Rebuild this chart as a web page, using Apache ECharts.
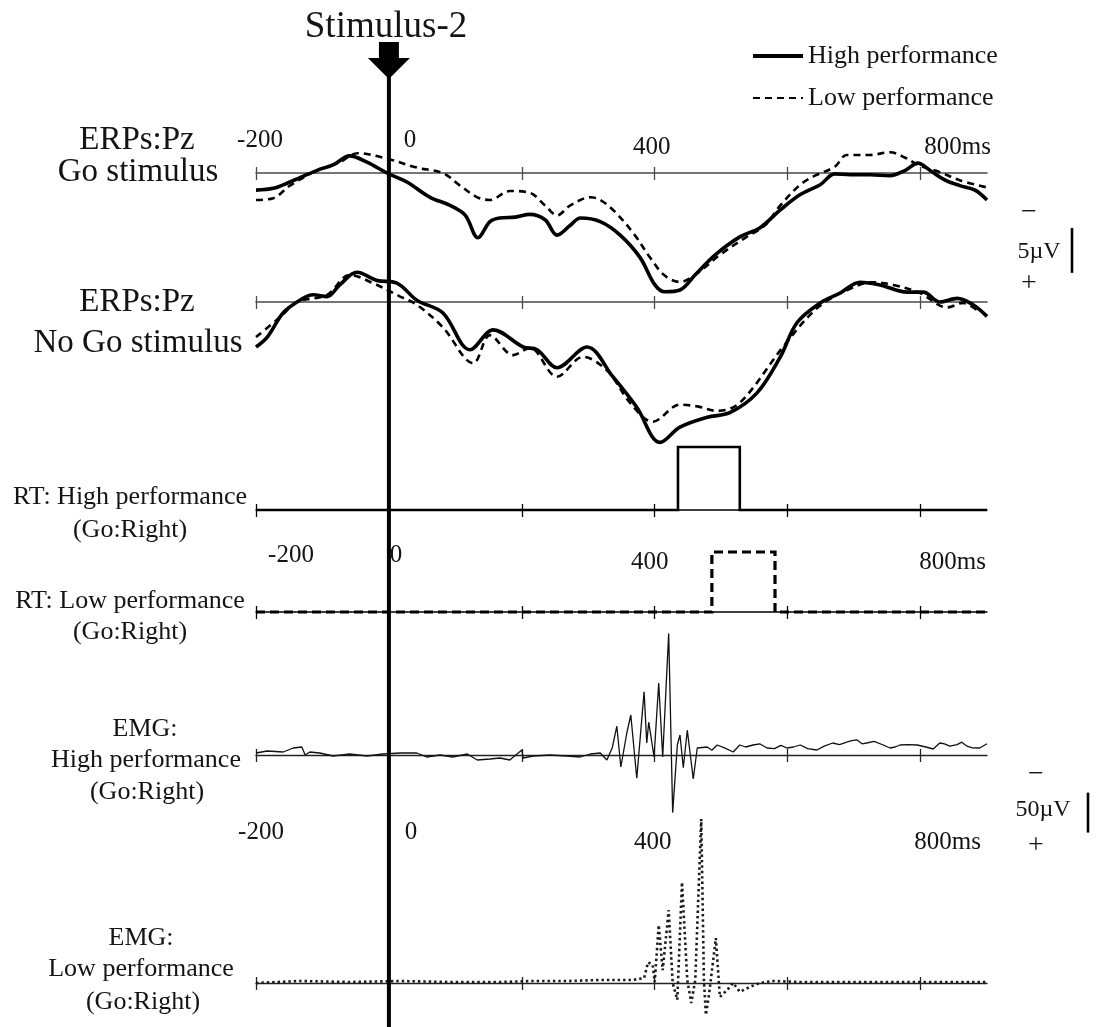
<!DOCTYPE html>
<html>
<head>
<meta charset="utf-8">
<script src="https://cdn.jsdelivr.net/npm/echarts@6/dist/echarts.min.js"></script>
<style>
  html, body { margin: 0; padding: 0; background: #fff; }
  #chart { width: 1107px; height: 1027px; }
</style>
</head>
<body>
<div id="chart"></div>
<script>
// ---- time axis (ms after Stimulus-2) ----
const timeRange = [-200, 900];
const tickValues = [-200, 0, 200, 400, 600, 800];
const tickLabelValues = [-200, 0, 400, 800];
const tickLabelTexts = ['-200', '0', '400', '800ms'];
const stimulusOnset = 0;

// ---- ERPs at Pz, [ms, µV], negative plotted upward ----
const erpGoHigh = [[-200,1.9],[-174,1.7],[-149,1.0],[-108,-0.3],[-84,-0.9],[-59,-1.9],[-33,-1.2],[-3,0],[27,1.0],[62,2.7],[92,3.6],[115,4.7],[134,7.2],[152,5.4],[167,5.0],[190,4.9],[212,4.6],[235,5.2],[253,6.9],[273,5.8],[288,5.0],[318,5.4],[348,6.9],[378,9.4],[400,12.4],[415,13.2],[438,13.0],[461,11.3],[491,9.1],[528,7.1],[558,6.1],[589,4.1],[619,2.4],[649,1.3],[671,0.1],[694,0.2],[724,0.2],[754,0.3],[777,-0.3],[796,-1.1],[814,-0.3],[837,0.8],[859,1.4],[882,1.9],[900,3.0]];
const erpGoLow = [[-200,3.0],[-174,2.8],[-149,1.4],[-108,-0.3],[-74,-1.2],[-47,-2.2],[-3,-1.6],[42,-0.6],[81,0],[107,1.4],[133,2.7],[152,3.0],[182,2.0],[212,2.2],[235,3.6],[253,4.7],[273,3.6],[303,2.7],[318,3.0],[340,4.3],[370,6.9],[393,9.4],[415,11.4],[438,12.1],[461,11.3],[498,9.1],[536,7.2],[566,5.8],[589,3.6],[619,1.3],[641,0.3],[671,-0.7],[689,-2.0],[724,-2.0],[754,-2.3],[777,-1.7],[796,-0.9],[829,-0.1],[859,0.8],[900,1.6]];
const erpNoGoHigh = [[-200,5.0],[-183,3.9],[-159,1.2],[-134,-0.2],[-114,-0.8],[-93,-0.6],[-74,-1.9],[-48,-3.3],[-18,-2.4],[12,-2.1],[42,-0.2],[81,1.2],[122,5.3],[157,3.1],[202,5.0],[223,5.3],[253,7.3],[298,5.0],[337,8.3],[373,11.7],[408,15.6],[438,13.9],[479,12.8],[513,12.3],[554,10.1],[589,6.1],[614,2.3],[649,0.1],[679,-1.0],[709,-2.2],[739,-1.9],[780,-1.1],[804,-1.1],[829,0],[855,-0.4],[879,0.3],[900,1.6]];
const erpNoGoLow = [[-200,3.9],[-164,1.7],[-138,0],[-93,-0.8],[-59,-3.0],[-24,-2.1],[17,-0.6],[42,0.3],[81,2.8],[127,6.8],[152,3.7],[187,5.9],[212,5.1],[253,8.3],[292,6.1],[328,7.6],[363,11.2],[397,13.3],[438,11.4],[464,11.6],[494,12.1],[528,11.2],[593,5.0],[644,0.7],[689,-1.3],[728,-2.2],[759,-1.9],[799,-1.0],[840,0.6],[864,0.1],[885,0.9]];

// ---- reaction-time windows, [onset, offset] in ms ----
const rtHighWindow = [435, 528];
const rtLowWindow = [486, 581];

// ---- EMG, [ms, µV], negative plotted upward ----
const emgHigh = [[-200,-2.5],[-183,-5],[-159,-3.75],[-144,-8.75],[-131,-10],[-126,0],[-119,-3.75],[-104,-2.5],[-84,1.25],[-59,-1.25],[-33,1.25],[-9,-1.25],[17,-2.5],[42,-2.5],[57,2.5],[77,0],[96,2.5],[118,-1.25],[133,6.25],[152,5],[167,3.75],[182,6.25],[200,-6.25],[202,3.75],[217,1.25],[242,0],[268,1.25],[288,2.5],[303,-1.25],[318,-2.5],[328,6.25],[336,-8.75],[343,-36],[349,15],[358,-27.5],[364,-50],[373,29],[384,-79],[388,-15],[391,-41],[399,2.5],[406,-90],[412,2.5],[421,-152],[427,72],[434,-12.5],[438,-25],[443,16],[449,-31],[458,30],[464,-8.75],[479,-10],[486,-6],[494,-12.5],[505,-9],[518,-3.75],[528,-12.5],[537,-10],[548,-12.5],[558,-14],[569,-8.75],[580,-8],[590,-12],[599,-8.75],[609,-10],[619,-12.5],[630,-8],[644,-6.25],[655,-11],[668,-15],[678,-13],[689,-16],[696,-18],[704,-19],[712,-14],[719,-15],[730,-17],[744,-12.5],[754,-8.75],[762,-10],[769,-12.5],[780,-13],[795,-12.5],[808,-10],[819,-7.5],[829,-15],[836,-14],[844,-11],[855,-13],[862,-16],[870,-11],[878,-9],[889,-8.75],[900,-14]];
const emgLow = [[-200,0],[-134,-2.5],[-59,-1.25],[17,-2.5],[92,-1.25],[167,-1.25],[217,-2.5],[268,-2.5],[318,-3.75],[367,-3.75],[384,-6.25],[390,-26],[397,-22.5],[400,-1.25],[406,-72.5],[412,-16],[421,-91],[427,0],[434,21],[441,-126],[449,-3.75],[455,25],[461,-3.75],[470,-205],[474,-3.75],[477,40],[482,12.5],[492,-56],[498,17.5],[509,8.75],[518,0],[528,11],[543,5],[558,0],[578,-2.5],[619,-1.25],[668,-1.25],[719,-1.25],[769,-1.25],[819,-1.25],[879,-1.25],[900,-1.25]];

// ---- calibration bars (µV) ----
const erpScaleBar = 5;
const emgScaleBar = 50;

// ------------------------------------------------------------------
const FONT = '"Liberation Serif", "Times New Roman", serif';
const INK = '#141414';
const LEFT = 256, RIGHT = 120;

const panels = [
  { top: 128, height: 180, yMin: -5,   yMax: 15, inverse: true,  axisColor: '#4a4a4a', axisWidth: 1.6 },
  { top: 257, height: 198, yMin: -5,   yMax: 17, inverse: true,  axisColor: '#4a4a4a', axisWidth: 1.6 },
  { top: 447, height: 63,  yMin: 0,    yMax: 1,  inverse: false, axisColor: '#000',    axisWidth: 1.5 },
  { top: 552, height: 60,  yMin: 0,    yMax: 1,  inverse: false, axisColor: '#000',    axisWidth: 1.5 },
  { top: 627, height: 192, yMin: -160, yMax: 80, inverse: true,  axisColor: '#222',    axisWidth: 1.4 },
  { top: 815, height: 204, yMin: -210, yMax: 45, inverse: true,  axisColor: '#222',    axisWidth: 1.4 }
];

// rows of time labels: y centre, horizontal nudge and extra drop per label
const labelRows = [
  { y: 140, shift: [4, 21, -3, 37], drop: [0, 0, 7, 7] },
  { y: 555, shift: [35, 7, -5, 32], drop: [0, 0, 7, 7] },
  { y: 832, shift: [5, 22, -2, 27], drop: [0, 0, 10, 10] }
];

const grids = [], xAxes = [], yAxes = [];

panels.forEach((p, i) => {
  grids.push({ left: LEFT, right: RIGHT, top: p.top, height: p.height });
  const common = {
    type: 'value', gridIndex: i, min: timeRange[0], max: timeRange[1],
    splitLine: { show: false }, axisLabel: { show: false }
  };
  xAxes.push(Object.assign({}, common, {
    position: 'bottom',
    axisLine: { show: true, onZero: true, onZeroAxisIndex: i,
      lineStyle: { color: p.axisColor, width: p.axisWidth } },
    axisTick: { show: true, customValues: tickValues, length: 7,
      lineStyle: { color: p.axisColor, width: 1.3 } }
  }));
  xAxes.push(Object.assign({}, common, {
    position: 'top',
    axisLine: { show: false, onZero: true, onZeroAxisIndex: i },
    axisTick: { show: true, customValues: tickValues, length: 6,
      lineStyle: { color: p.axisColor, width: 1.3 } }
  }));
  yAxes.push({ type: 'value', gridIndex: i, min: p.yMin, max: p.yMax, inverse: p.inverse, show: false });
});

labelRows.forEach((row, k) => {
  const gi = panels.length + k;
  grids.push({ left: LEFT, right: RIGHT, top: row.y - 1, height: 1 });
  const rich = {};
  tickLabelTexts.forEach((t, j) => {
    const s = row.shift[j];
    rich['t' + j] = {
      fontFamily: FONT, fontSize: 25, color: INK,
      padding: [2 * row.drop[j], s < 0 ? -2 * s : 0, 0, s > 0 ? 2 * s : 0]
    };
  });
  xAxes.push({
    type: 'value', gridIndex: gi, min: timeRange[0], max: timeRange[1], position: 'bottom',
    axisLine: { show: false, onZero: false }, axisTick: { show: false }, splitLine: { show: false },
    axisLabel: {
      show: true, customValues: tickLabelValues, margin: 0, verticalAlign: 'middle',
      formatter: (v) => {
        const j = tickLabelValues.indexOf(v);
        return j < 0 ? '' : '{t' + j + '|' + tickLabelTexts[j] + '}';
      },
      rich
    }
  });
  yAxes.push({ type: 'value', gridIndex: gi, min: 0, max: 1, show: false });
});

function lineSeries(name, panel, data, style, extra) {
  return Object.assign({
    name, type: 'line', xAxisIndex: 2 * panel, yAxisIndex: panel,
    data, symbol: 'none', showSymbol: false, clip: false, animation: false,
    itemStyle: { color: '#000' },
    lineStyle: style
  }, extra || {});
}

function rtTrace(win) {
  return [[timeRange[0], 0], [win[0], 0], [win[0], 1], [win[1], 1], [win[1], 0], [timeRange[1], 0]];
}

const erpSmooth = 0.35;
const series = [
  lineSeries('High performance', 0, erpGoHigh, { color: '#000', width: 3.6 }, { smooth: erpSmooth }),
  lineSeries('Low performance', 0, erpGoLow, { color: '#000', width: 2.6, type: [7, 5] }, { smooth: erpSmooth }),
  lineSeries('No Go high', 1, erpNoGoHigh, { color: '#000', width: 3.6 }, { smooth: erpSmooth }),
  lineSeries('No Go low', 1, erpNoGoLow, { color: '#000', width: 2.6, type: [7, 5] }, { smooth: erpSmooth }),
  lineSeries('RT high', 2, rtTrace(rtHighWindow), { color: '#000', width: 2.6, join: 'miter' }),
  lineSeries('RT low', 3, rtTrace(rtLowWindow), { color: '#000', width: 3.2, type: [9, 5], join: 'miter' }),
  lineSeries('EMG high', 4, emgHigh, { color: '#111', width: 1.3 }),
  lineSeries('EMG low', 5, emgLow, { color: '#1a1a1a', width: 2.6, type: [2.4, 3] }),
  {
    // Stimulus-2 onset marker: arrow and vertical line through all panels
    name: 'Stimulus-2', type: 'custom', xAxisIndex: 0, yAxisIndex: 0, z: 20, clip: false,
    data: [[stimulusOnset, 0]], animation: false, silent: true,
    renderItem: (params, api) => {
      const x = api.coord([api.value(0), 0])[0];
      return {
        type: 'group', children: [
          { type: 'line', shape: { x1: x, y1: 70, x2: x, y2: 1027 }, style: { stroke: '#000', lineWidth: 4 } },
          { type: 'polygon', shape: { points: [[x - 10, 42], [x + 10, 42], [x + 10, 58], [x + 21, 58], [x, 79], [x - 21, 58], [x - 10, 58]] },
            style: { fill: '#000' } }
        ]
      };
    }
  },
  {
    // 5 µV calibration bar, measured on the ERP scale
    name: 'erp-scale', type: 'custom', xAxisIndex: 0, yAxisIndex: 0, clip: false, silent: true, animation: false,
    data: [[0, 6.1]],
    renderItem: (params, api) => {
      const y1 = api.coord([0, api.value(1)])[1];
      const y2 = api.coord([0, api.value(1) + erpScaleBar])[1];
      return { type: 'line', shape: { x1: 1072, y1, x2: 1072, y2 }, style: { stroke: '#000', lineWidth: 2.6 } };
    }
  },
  {
    // 50 µV calibration bar, measured on the EMG scale
    name: 'emg-scale', type: 'custom', xAxisIndex: 8, yAxisIndex: 4, clip: false, silent: true, animation: false,
    data: [[0, 47]],
    renderItem: (params, api) => {
      const y1 = api.coord([0, api.value(1)])[1];
      const y2 = api.coord([0, api.value(1) + emgScaleBar])[1];
      return { type: 'line', shape: { x1: 1088, y1, x2: 1088, y2 }, style: { stroke: '#000', lineWidth: 2.6 } };
    }
  }
];

// panel captions and calibration text
const captions = [
  { text: 'Stimulus-2', x: 386, y: 27, size: 37 },
  { text: 'ERPs:Pz', x: 137, y: 140, size: 33 },
  { text: 'Go stimulus', x: 138, y: 172, size: 33 },
  { text: 'ERPs:Pz', x: 137, y: 302, size: 33 },
  { text: 'No Go stimulus', x: 138, y: 343, size: 33 },
  { text: 'RT: High performance', x: 130, y: 497, size: 26 },
  { text: '(Go:Right)', x: 130, y: 530, size: 26 },
  { text: 'RT: Low performance', x: 130, y: 601, size: 26 },
  { text: '(Go:Right)', x: 130, y: 632, size: 26 },
  { text: 'EMG:', x: 145, y: 729, size: 26 },
  { text: 'High performance', x: 146, y: 760, size: 26 },
  { text: '(Go:Right)', x: 147, y: 792, size: 26 },
  { text: 'EMG:', x: 141, y: 938, size: 26 },
  { text: 'Low performance', x: 141, y: 969, size: 26 },
  { text: '(Go:Right)', x: 143, y: 1002, size: 26 },
  { text: '\u2212', x: 1029, y: 213, size: 28 },
  { text: '5\u00b5V', x: 1039, y: 252, size: 24 },
  { text: '+', x: 1029, y: 284, size: 28 },
  { text: '\u2212', x: 1036, y: 775, size: 28 },
  { text: '50\u00b5V', x: 1043, y: 810, size: 24 },
  { text: '+', x: 1036, y: 846, size: 28 }
];

const graphic = captions.map(c => ({
  type: 'text', x: c.x, y: c.y, silent: true,
  style: { text: c.text, fontFamily: FONT, fontSize: c.size, fill: INK, align: 'center', verticalAlign: 'middle' }
}));

const chart = echarts.init(document.getElementById('chart'), null, { renderer: 'canvas' });
chart.setOption({
  animation: false,
  backgroundColor: '#fff',
  grid: grids,
  xAxis: xAxes,
  yAxis: yAxes,
  legend: {
    data: [
      { name: 'High performance', lineStyle: { width: 4 } },
      { name: 'Low performance', lineStyle: { width: 2.2 } }
    ],
    orient: 'vertical', left: 751, top: 43, padding: 0,
    itemWidth: 50, itemHeight: 14, itemGap: 16,
    itemStyle: { opacity: 0 },
    selectedMode: false,
    textStyle: { fontFamily: FONT, fontSize: 26, color: INK, lineHeight: 26 }
  },
  graphic,
  series
});
</script>
</body>
</html>
